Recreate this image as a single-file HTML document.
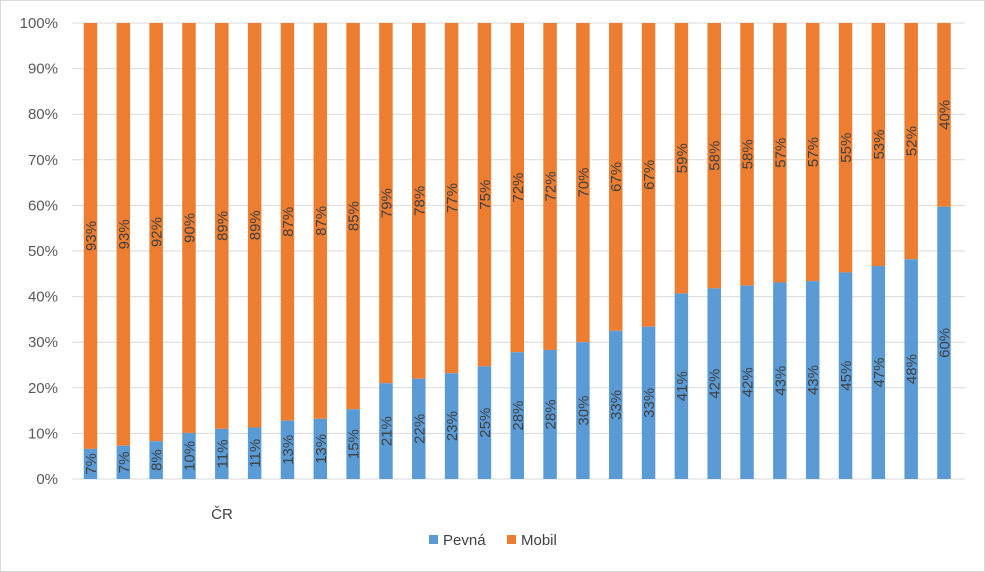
<!DOCTYPE html>
<html><head><meta charset="utf-8"><style>
body{margin:0;background:#fff;}
svg{display:block;font-family:"Liberation Sans",sans-serif;}
</style></head><body>
<svg id="c" width="985" height="572">
<rect x="0.5" y="0.5" width="984" height="571" fill="#fff" stroke="#d9d9d9"/>
<g id="grid"></g><g id="bars"></g><g id="labels"></g>
<text x="222" y="519" font-size="15" fill="#404040" text-anchor="middle">ČR</text>
<g>
<rect x="429" y="535" width="9" height="9" fill="#5b9bd5"/>
<text x="443" y="545" font-size="15" fill="#404040">Pevná</text>
<rect x="507" y="535" width="9" height="9" fill="#ed7d31"/>
<text x="521" y="545" font-size="15" fill="#404040">Mobil</text>
</g>
</svg>
<script>
const pevna=[6.6,7.3,8.3,10.1,11,11.3,12.8,13.2,15.3,21,22,23.2,24.7,27.8,28.3,30,32.5,33.4,40.7,41.8,42.4,43.1,43.4,45.3,46.7,48.2,59.7];
const pevnaLabels=["7%","7%","8%","10%","11%","11%","13%","13%","15%","21%","22%","23%","25%","28%","28%","30%","33%","33%","41%","42%","42%","43%","43%","45%","47%","48%","60%"];
const mobilLabels=["93%","93%","92%","90%","89%","89%","87%","87%","85%","79%","78%","77%","75%","72%","72%","70%","67%","67%","59%","58%","58%","57%","57%","55%","53%","52%","40%"];
const yTicks=[0,10,20,30,40,50,60,70,80,90,100];
const NS="http://www.w3.org/2000/svg";
const y0=479,y1=23,xL=72,xR=965;
function y(v){return y0-(y0-y1)*v/100;}
function x(i){return 90.5+i*(944-90.5)/(pevna.length-1);}
function mk(t,a,p){const e=document.createElementNS(NS,t);for(const k in a)e.setAttribute(k,a[k]);p.appendChild(e);return e;}
const g=document.getElementById('grid'),b=document.getElementById('bars'),l=document.getElementById('labels');
yTicks.forEach(t=>{
 const ln=mk('line',{x1:xL,x2:xR,y1:y(t),y2:y(t),stroke:'#d9d9d9','stroke-width':1},g);
 
 
 const tx=mk('text',{x:58,y:y(t)+5,'font-size':15,fill:'#595959','text-anchor':'end'},g);
 tx.textContent=t+'%';
 
 
});
const w=13.5;
pevna.forEach((v,i)=>{
 const cx=x(i);
 const r1=mk('rect',{x:cx-w/2,y:y(100),width:w,height:y(v)-y(100),fill:'#ed7d31'},b);
 
 
 const r2=mk('rect',{x:cx-w/2,y:y(v),width:w,height:y0-y(v),fill:'#5b9bd5'},b);
 
 
 const cb=(y(v)+y0)/2, co=(y(v)+y(100))/2;
 const t1=mk('text',{x:0,y:0,'font-size':15,fill:'#404040','text-anchor':'middle',transform:`translate(${cx+5.5},${cb}) rotate(-90)`},l);
 t1.textContent=pevnaLabels[i];
 
 
 const t2=mk('text',{x:0,y:0,'font-size':15,fill:'#404040','text-anchor':'middle',transform:`translate(${cx+5.5},${co}) rotate(-90)`},l);
 t2.textContent=mobilLabels[i];
 
 
});
</script>
</body></html>
